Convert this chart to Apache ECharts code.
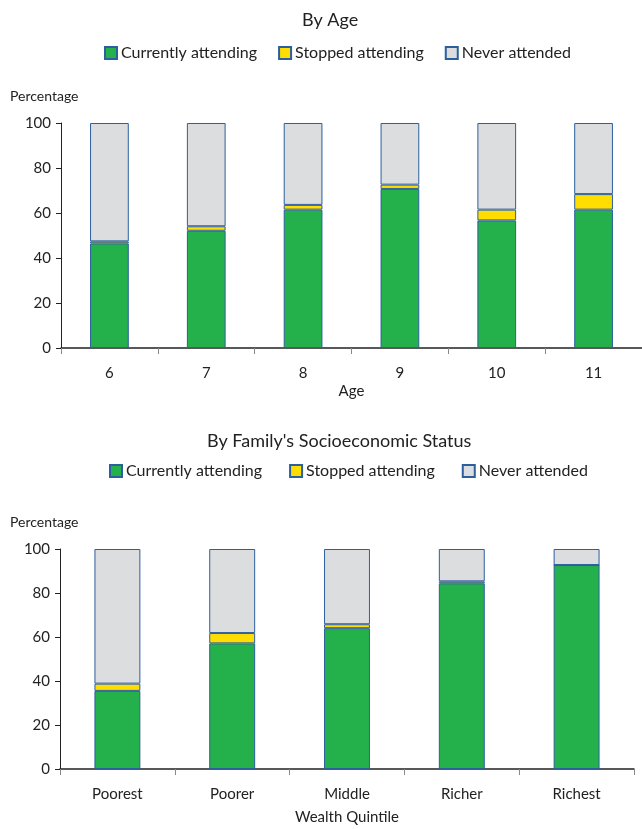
<!DOCTYPE html>
<html>
<head>
<meta charset="utf-8">
<script src="https://cdn.jsdelivr.net/npm/echarts@6/dist/echarts.min.js"></script>
<style>
html,body{margin:0;padding:0;background:#fff;}
#chart{width:642px;height:829px;}
</style>
</head>
<body>
<div id="chart"></div>
<script>
// ---- data ----
var ageCategories = ['6', '7', '8', '9', '10', '11'];
var ageCurrent = [46.5, 52.1, 61.5, 70.7, 56.7, 61.5];
var ageStopped = [0.9, 2.0, 2.1, 1.9, 4.8, 6.9];
var ageNever = [52.6, 45.9, 36.4, 27.4, 38.5, 31.6];

var wealthCategories = ['Poorest', 'Poorer', 'Middle', 'Richer', 'Richest'];
var wealthCurrent = [35.5, 57.1, 64.0, 84.4, 92.7];
var wealthStopped = [3.3, 4.7, 1.8, 0.9, 0.0];
var wealthNever = [61.2, 38.2, 34.2, 14.7, 7.3];

var seriesNames = ['Currently attending', 'Stopped attending', 'Never attended'];
var yTicks = [0, 20, 40, 60, 80, 100];

// ---- styles ----
var FONT = 'Lato, "Open Sans", sans-serif';
var colors = ['#24b14c', '#ffdd00', '#dcdddf'];
var borderCol = '#2b5f9e';

function barSeries(name, data, idx, colorIdx, stack) {
  return {
    type: 'bar', name: name, data: data, stack: stack,
    xAxisIndex: idx, yAxisIndex: idx, barWidth: '40%',
    itemStyle: { color: colors[colorIdx], borderColor: borderCol, borderWidth: 1 },
    emphasis: { disabled: true }, animation: false
  };
}

function yAxis(idx) {
  return {
    gridIndex: idx, type: 'value', min: yTicks[0], max: yTicks[yTicks.length - 1], interval: 20,
    axisLine: { show: true, lineStyle: { color: '#222', width: 1 } },
    axisTick: { show: true, inside: false, length: 5, lineStyle: { color: '#222' } },
    axisLabel: { fontFamily: FONT, fontSize: 15, color: '#222', margin: 10 },
    splitLine: { show: false }
  };
}

function xAxis(idx, cats, name, gap) {
  return {
    gridIndex: idx, type: 'category', data: cats,
    name: name, nameLocation: 'middle', nameGap: gap,
    nameTextStyle: { fontFamily: FONT, fontSize: 15, color: '#222' },
    axisLine: { show: true, lineStyle: { color: '#222', width: 1.5 } },
    axisTick: { show: true, alignWithLabel: false, length: 6, lineStyle: { color: '#888' } },
    axisLabel: { fontFamily: FONT, fontSize: 15, color: '#222', margin: 18 }
  };
}

function legend(left, top, gap) {
  return {
    left: left, top: top, itemWidth: 12, itemHeight: 12, itemGap: gap, icon: 'rect',
    data: seriesNames,
    textStyle: { fontFamily: FONT, fontSize: 16, color: '#222', padding: [0, 0, 0, -1] },
    selectedMode: false
  };
}

var chart = echarts.init(document.getElementById('chart'), null, { renderer: 'canvas' });
chart.setOption({
  backgroundColor: '#fff',
  animation: false,
  title: [
    { text: 'By Age', left: 297, top: 6, textStyle: { fontFamily: FONT, fontSize: 18, fontWeight: 'normal', color: '#222' } },
    { text: "By Family's Socioeconomic Status", left: 202, top: 427, textStyle: { fontFamily: FONT, fontSize: 18, fontWeight: 'normal', color: '#222' } }
  ],
  legend: [legend(99, 40, 21), legend(104, 458, 27)],
  grid: [
    { left: 61, right: 0, top: 123, height: 225 },
    { left: 60, right: 8, top: 549, height: 220 }
  ],
  xAxis: [xAxis(0, ageCategories, 'Age', 36), xAxis(1, wealthCategories, 'Wealth Quintile', 41)],
  yAxis: [yAxis(0), yAxis(1)],
  graphic: [
    { type: 'text', left: 10, top: 89, style: { text: 'Percentage', fontFamily: FONT, fontSize: 14, fill: '#222' } },
    { type: 'text', left: 10, top: 515, style: { text: 'Percentage', fontFamily: FONT, fontSize: 14, fill: '#222' } }
  ],
  series: [
    barSeries(seriesNames[0], ageCurrent, 0, 0, 'age'),
    barSeries(seriesNames[1], ageStopped, 0, 1, 'age'),
    barSeries(seriesNames[2], ageNever, 0, 2, 'age'),
    barSeries(seriesNames[0], wealthCurrent, 1, 0, 'wealth'),
    barSeries(seriesNames[1], wealthStopped, 1, 1, 'wealth'),
    barSeries(seriesNames[2], wealthNever, 1, 2, 'wealth')
  ]
});
</script>
</body>
</html>
